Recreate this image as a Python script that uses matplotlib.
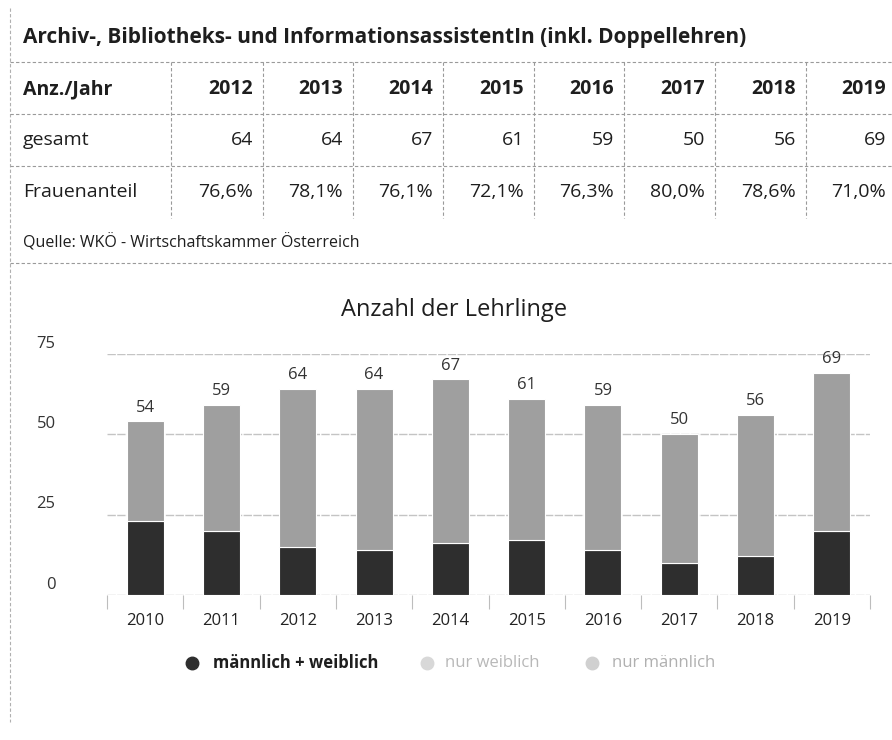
import matplotlib
matplotlib.use("Agg")
import matplotlib.pyplot as plt
from matplotlib.lines import Line2D
from matplotlib.transforms import ScaledTranslation
import numpy as np

plt.rcParams['font.family'] = ['Open Sans', 'DejaVu Sans']

# ---------------- data ----------------
table_title = "Archiv-, Bibliotheks- und InformationsassistentIn (inkl. Doppellehren)"
table_header = "Anz./Jahr"
table_years = [2012, 2013, 2014, 2015, 2016, 2017, 2018, 2019]
table_total = [64, 64, 67, 61, 59, 50, 56, 69]
table_share = [76.6, 78.1, 76.1, 72.1, 76.3, 80.0, 78.6, 71.0]
source_text = "Quelle: WKÖ - Wirtschaftskammer Österreich"

chart_title = "Anzahl der Lehrlinge"
years = ["2010", "2011", "2012", "2013", "2014", "2015", "2016", "2017", "2018", "2019"]
male = [23, 20, 15, 14, 16, 17, 14, 10, 12, 20]
female = [31, 39, 49, 50, 51, 44, 45, 40, 44, 49]
totals = [54, 59, 64, 64, 67, 61, 59, 50, 56, 69]
y_ticks = [0, 25, 50, 75]
legend_labels = ["männlich + weiblich", "nur weiblich", "nur männlich"]

# ---------------- figure ----------------
W, H = 892, 740
fig = plt.figure(figsize=(W / 100, H / 100), dpi=100)
fig.patch.set_facecolor("white")

def fx(x):
    return x / W

def fy(y):
    return 1 - y / H

TEXT = "#1e1e1e"
LINE = "#9a9a9a"
DOT = (0, (3, 2))

def hline(y, x0, x1, **kw):
    fig.add_artist(Line2D([fx(x0), fx(x1)], [fy(y), fy(y)], transform=fig.transFigure,
                          color=kw.get("color", LINE), lw=kw.get("lw", 0.8), linestyle=kw.get("ls", DOT)))

def vline(x, y0, y1, **kw):
    fig.add_artist(Line2D([fx(x), fx(x)], [fy(y0), fy(y1)], transform=fig.transFigure,
                          color=kw.get("color", LINE), lw=kw.get("lw", 0.8), linestyle=kw.get("ls", DOT)))

# left page border
vline(10, 8, 722, color="#b0b0b0")

# table title
fig.text(fx(23), fy(38), table_title, fontsize=15, fontweight="bold", color=TEXT,
         ha="left", va="center")

# table grid
row_lines = [62, 114, 166, 218]
col_lines = [171, 263, 353, 443, 534, 624, 715, 806, 896]
for y in row_lines[:-1]:
    hline(y, 10, 892)
for x in col_lines[:-1]:
    vline(x, 62, 218)

row_centers = [89, 140, 192]
fig.text(fx(23), fy(row_centers[0]), table_header, fontsize=14, fontweight="bold",
         color=TEXT, ha="left", va="center")
fig.text(fx(23), fy(row_centers[1]), "gesamt", fontsize=14, color=TEXT, ha="left", va="center")
fig.text(fx(23), fy(row_centers[2]), "Frauenanteil", fontsize=14, color=TEXT, ha="left", va="center")
for i, yr in enumerate(table_years):
    xr = col_lines[i + 1] - 10
    fig.text(fx(xr), fy(row_centers[0]), str(yr), fontsize=14, fontweight="bold",
             color=TEXT, ha="right", va="center")
    fig.text(fx(xr), fy(row_centers[1]), str(table_total[i]), fontsize=14,
             color=TEXT, ha="right", va="center")
    fig.text(fx(xr), fy(row_centers[2]), f"{table_share[i]:.1f}%".replace(".", ","),
             fontsize=14, color=TEXT, ha="right", va="center")

# source
fig.text(fx(23), fy(243), source_text, fontsize=11.5, color=TEXT, ha="left", va="center")
hline(263, 10, 892)

# chart title
fig.text(fx(454), fy(310), chart_title, fontsize=17, color=TEXT, ha="center", va="center")

# ---------------- bar chart ----------------
x0, x1, yb, yt = 107, 870, 595, 353.5
ax = fig.add_axes([fx(x0), fy(yb), (x1 - x0) / W, (yb - yt) / H])
ax.set_facecolor("none")
xs = np.arange(len(years))
DARK = "#2e2e2e"
LIGHT = "#9f9f9f"
ax.bar(xs, male, width=0.485, color=DARK, edgecolor="white", linewidth=0.8, zorder=3)
ax.bar(xs, female, width=0.485, bottom=male, color=LIGHT, edgecolor="white", linewidth=0.8, zorder=3)
for xi, t in zip(xs, totals):
    ax.annotate(str(t), (xi, t), xytext=(0, 4), textcoords="offset points",
                ha="center", va="bottom", fontsize=12, color="#333333")

ax.set_xlim(-0.5, len(years) - 0.5)
ax.set_ylim(0, 75)
ax.set_yticks(y_ticks)
ax.set_yticklabels([str(v) for v in y_ticks])
ax.yaxis.grid(True, color="#c4c4c4", lw=1.0, linestyle=(0, (6, 1)))
ax.set_axisbelow(True)
for s in ax.spines.values():
    s.set_visible(False)
ax.tick_params(axis="y", length=0, pad=37, labelsize=12, labelcolor="#333333")
for lab in ax.get_yticklabels():
    lab.set_transform(lab.get_transform() + ScaledTranslation(0, 0.12, fig.dpi_scale_trans))

ax.set_xticks(xs)
ax.set_xticklabels(years)
ax.tick_params(axis="x", which="major", length=0, pad=13, labelsize=12, labelcolor="#222222")
ax.set_xticks(np.arange(-0.5, len(years), 1.0), minor=True)
ax.tick_params(axis="x", which="minor", length=10, width=0.8, color="#bdbdbd", direction="out")

# ---------------- legend ----------------
leg_y = 663
leg_items = [(192, 213, legend_labels[0], DARK, TEXT, "bold"),
             (427, 445, legend_labels[1], "#d8d8d8", "#b8b8b8", "normal"),
             (592, 612, legend_labels[2], "#d0d0d0", "#b0b0b0", "normal")]
for cx, tx, lab, mc, tc, fw in leg_items:
    fig.add_artist(Line2D([fx(cx)], [fy(leg_y)], transform=fig.transFigure, marker="o",
                          markersize=9, color=mc, linestyle="none"))
    fig.text(fx(tx), fy(leg_y), lab, fontsize=12, fontweight=fw, color=tc, ha="left", va="center")

fig.savefig("out.png", dpi=100)
